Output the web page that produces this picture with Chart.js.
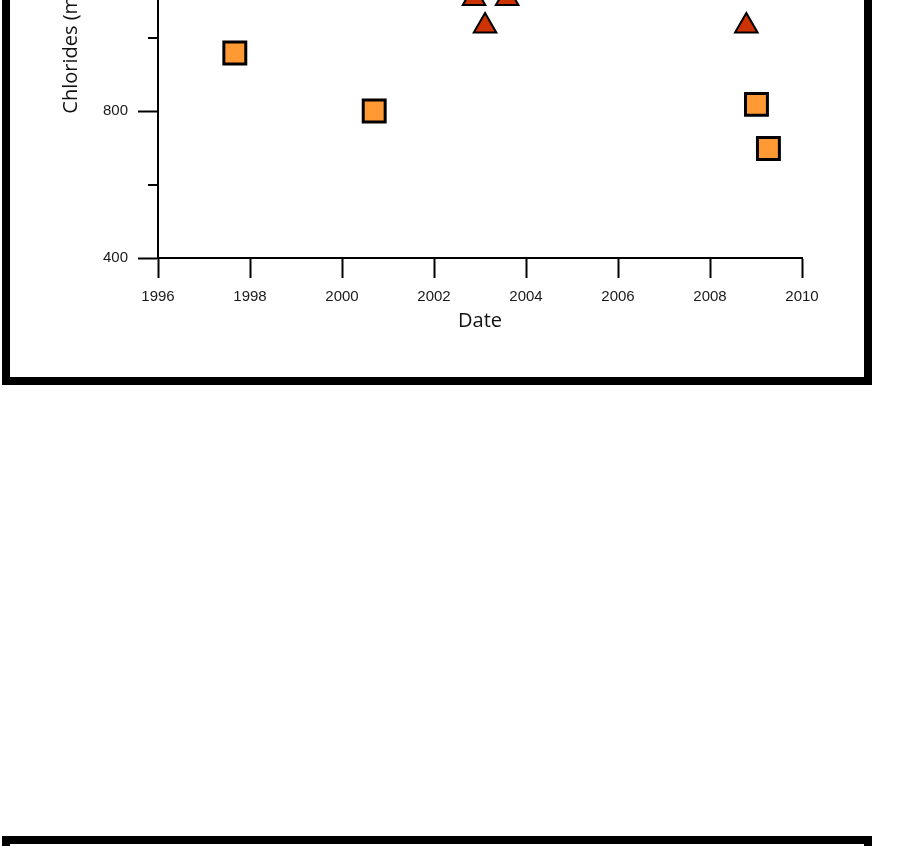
<!DOCTYPE html>
<html>
<head>
<meta charset="utf-8">
<script src="https://cdn.jsdelivr.net/npm/chart.js@4"></script>
<style>
  html, body { margin: 0; padding: 0; background: #fff; overflow: hidden; width: 898px; height: 846px; }
  .frame { position: absolute; left: 2px; width: 854px; border: 8px solid #000; background: #fff; }
  #top-frame { top: -250px; height: 619px; }
  #bottom-frame { top: 836px; height: 300px; }
  #chloridesChart { position: absolute; left: 0; top: 0; }
</style>
</head>
<body>
<div class="frame" id="top-frame">
  <canvas id="chloridesChart" width="853" height="619"></canvas>
</div>
<div class="frame" id="bottom-frame"></div>
<script>
// sample dates (decimal years) and chloride values
const squareDates = [1997.67, 2000.70, 2009.01, 2009.27];
const squareValues = [958, 800, 818, 698];
const triangleDates = [2002.87, 2003.59, 2003.11, 2008.79];
const triangleValues = [1106, 1106, 1031, 1031];

const xTicks = [1996, 1998, 2000, 2002, 2004, 2006, 2008, 2010];
const yMajorTicks = [400, 800, 1200, 1600];
const yMinorTicks = [600, 1000, 1400];

function toPoints(xs, ys) {
    return xs.map((x, i) => ({ x: x, y: ys[i] }));
}

// short unlabeled ticks between the labeled values
const minorTicks = {
    id: 'minorTicks',
    afterDraw(chart) {
        const y = chart.scales.y;
        const ctx = chart.ctx;
        const left = chart.chartArea.left;
        ctx.save();
        ctx.strokeStyle = '#000';
        ctx.lineWidth = 2;
        yMinorTicks.forEach(function(v) {
            const py = Math.round(y.getPixelForValue(v));
            ctx.beginPath();
            ctx.moveTo(left - 10, py);
            ctx.lineTo(left, py);
            ctx.stroke();
        });
        ctx.restore();
    }
};

const canvasEl = document.getElementById('chloridesChart');
new Chart(canvasEl.getContext('2d'), {
    type: 'scatter',
    data: {
        datasets: [{
            label: 'squares',
            data: toPoints(squareDates, squareValues),
            pointStyle: 'rect',
            pointRadius: 15.5,
            backgroundColor: '#ff9933',
            borderColor: '#000',
            borderWidth: 3
        }, {
            label: 'triangles',
            data: toPoints(triangleDates, triangleValues),
            pointStyle: 'triangle',
            pointRadius: 13,
            backgroundColor: '#cc3300',
            borderColor: '#000',
            borderWidth: 2
        }]
    },
    options: {
        responsive: false,
        animation: false,
        layout: { padding: { left: 49, right: 61, top: 59, bottom: 44 } },
        plugins: { legend: { display: false }, tooltip: { enabled: false } },
        scales: {
            x: {
                type: 'linear',
                min: xTicks[0],
                max: xTicks[xTicks.length - 1],
                afterBuildTicks: function(scale) { scale.ticks = xTicks.map(v => ({ value: v })); },
                afterFit: function(scale) { scale.height = 75; },
                border: { color: '#000', width: 2 },
                grid: { drawOnChartArea: false, tickLength: 20, tickWidth: 2, tickColor: '#000' },
                ticks: {
                    padding: 10,
                    color: '#1a1a1a',
                    font: { family: 'Liberation Sans', size: 15 },
                    callback: v => String(v)
                },
                title: {
                    display: true,
                    text: 'Date',
                    color: '#111',
                    padding: 0,
                    font: { family: 'Open Sans', size: 20 }
                }
            },
            y: {
                min: 400,
                max: 1600,
                afterBuildTicks: function(scale) { scale.ticks = yMajorTicks.map(v => ({ value: v })); },
                afterFit: function(scale) { scale.width = 99; },
                border: { color: '#000', width: 2 },
                grid: { drawOnChartArea: false, tickLength: 20, tickWidth: 2, tickColor: '#000' },
                ticks: {
                    padding: 10,
                    color: '#1a1a1a',
                    font: { family: 'Liberation Sans', size: 15 },
                    callback: v => String(v)
                },
                title: {
                    display: true,
                    text: 'Chlorides (mg/L)',
                    color: '#111',
                    padding: 0,
                    font: { family: 'Open Sans', size: 20 }
                }
            }
        }
    },
    plugins: [minorTicks]
});
</script>
</body>
</html>
